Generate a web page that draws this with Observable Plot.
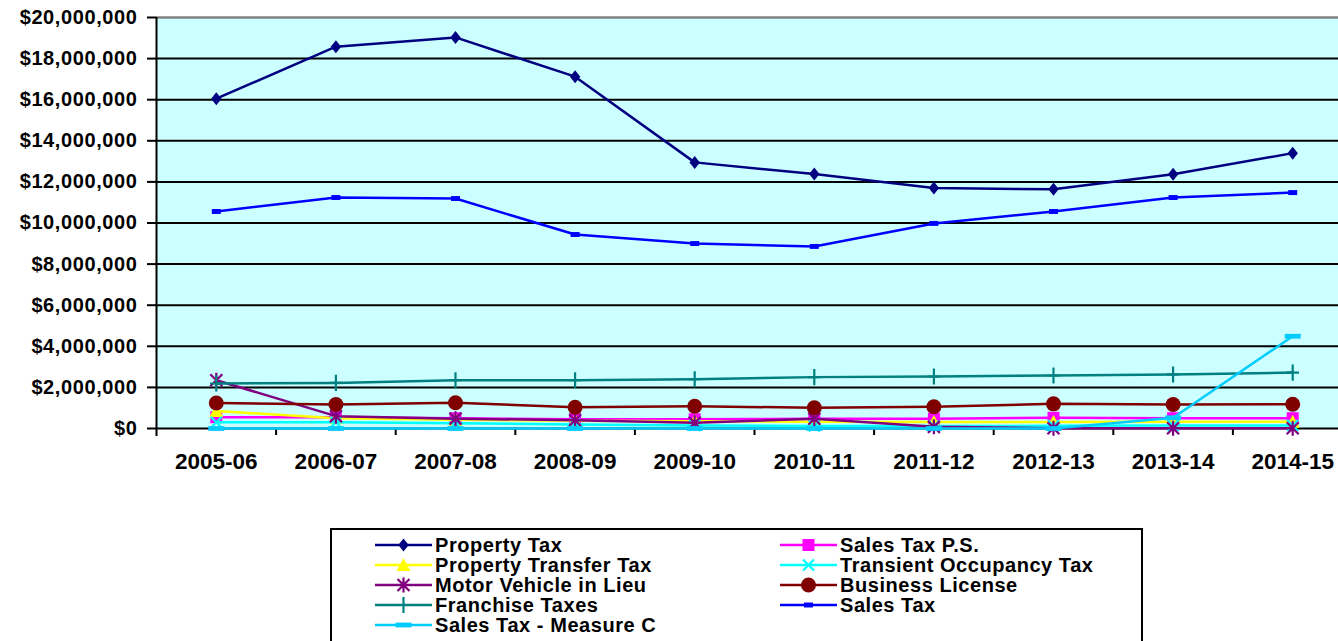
<!DOCTYPE html>
<html>
<head>
<meta charset="utf-8">
<script src="https://cdn.jsdelivr.net/npm/d3@7"></script>
<script src="https://cdn.jsdelivr.net/npm/@observablehq/plot@0.6"></script>
<style>
  html, body { margin: 0; padding: 0; background: #fff; overflow: hidden; }
  body { width: 1338px; height: 641px; position: relative; font-family: "Liberation Sans", Arial, sans-serif; }
  #chart { position: absolute; left: 0; top: 0; width: 1338px; }
  #chart svg text { font-weight: 700; fill: #000; }
  #chart g[aria-label="y-axis tick label"] text { font-size: 20px; letter-spacing: 0.6px; }
  #chart g[aria-label="x-axis tick label"] text { font-size: 22.5px; }
  #legend { position: absolute; left: 330px; top: 528px; width: 813px; height: 140px;
            border: 2px solid #000; box-sizing: border-box; background: #fff; }
  .item { position: absolute; height: 20px; display: flex; align-items: center; white-space: nowrap;
          font-size: 20px; font-weight: 700; letter-spacing: 0.55px; color: #000; line-height: 20px; }
  .item svg { display: block; margin-right: 2px; }
</style>
</head>
<body>
<div id="chart"></div>
<div id="legend"></div>
<script>
// ---------- data ----------
const years = ["2005-06","2006-07","2007-08","2008-09","2009-10","2010-11","2011-12","2012-13","2013-14","2014-15"];
const propertyTax         = [16050000, 18580000, 19030000, 17120000, 12950000, 12380000, 11700000, 11640000, 12370000, 13400000];
const salesTaxPS          = [550000, 550000, 500000, 450000, 450000, 470000, 480000, 520000, 500000, 500000];
const propertyTransferTax = [850000, 500000, 420000, 380000, 350000, 330000, 320000, 320000, 330000, 330000];
const transientOccupancy  = [300000, 300000, 250000, 200000, 150000, 120000, 120000, 130000, 140000, 150000];
const motorVehicleInLieu  = [2350000, 600000, 480000, 400000, 280000, 470000, 80000, 10000, 10000, 10000];
const businessLicense     = [1240000, 1170000, 1250000, 1030000, 1080000, 1010000, 1060000, 1200000, 1170000, 1180000];
const franchiseTaxes      = [2190000, 2220000, 2350000, 2350000, 2400000, 2500000, 2530000, 2580000, 2630000, 2720000];
const salesTax            = [10560000, 11240000, 11190000, 9440000, 9000000, 8860000, 9980000, 10560000, 11240000, 11480000];
const salesTaxMeasureC    = [0, 0, 0, 0, 0, 0, 0, 0, 520000, 4490000];
const yTicks = [0, 2000000, 4000000, 6000000, 8000000, 10000000, 12000000, 14000000, 16000000, 18000000, 20000000];
const seriesNames = ["Property Tax","Sales Tax P.S.","Property Transfer Tax","Transient Occupancy Tax",
  "Motor Vehicle in Lieu","Business License","Franchise Taxes","Sales Tax","Sales Tax - Measure C"];
const seriesValues = [propertyTax, salesTaxPS, propertyTransferTax, transientOccupancy,
  motorVehicleInLieu, businessLicense, franchiseTaxes, salesTax, salesTaxMeasureC];

// ---------- marker shapes ----------
const rad = s => Math.sqrt(s / Math.PI);
const shapes = {
  diamond: {draw(c, s) { const r = rad(s); c.moveTo(0, -r); c.lineTo(r * 0.8, 0); c.lineTo(0, r); c.lineTo(-r * 0.8, 0); c.closePath(); }},
  square: {draw(c, s) { const r = rad(s); c.rect(-r, -r, 2 * r, 2 * r); }},
  triangle: {draw(c, s) { const r = rad(s); c.moveTo(0, -r); c.lineTo(r, r * 0.85); c.lineTo(-r, r * 0.85); c.closePath(); }},
  times: {draw(c, s) { const r = rad(s); c.moveTo(-r, -r); c.lineTo(r, r); c.moveTo(r, -r); c.lineTo(-r, r); }},
  asterisk: {draw(c, s) { const r = rad(s); c.moveTo(-r, -r); c.lineTo(r, r); c.moveTo(r, -r); c.lineTo(-r, r); c.moveTo(0, -r * 1.25); c.lineTo(0, r * 1.25); }},
  circle: {draw(c, s) { const r = rad(s); c.moveTo(r, 0); c.arc(0, 0, r, 0, 2 * Math.PI); }},
  plus: {draw(c, s) { const r = rad(s); c.moveTo(0, -r * 1.15); c.lineTo(0, r * 1.15); c.moveTo(-r * 0.9, 0); c.lineTo(r * 0.9, 0); }},
  dashSmall: {draw(c, s) { const r = rad(s); c.rect(-r, -r * 0.55, 2 * r, r * 1.1); }},
  dashWide: {draw(c, s) { const r = rad(s); c.rect(-r, -r * 0.3, 2 * r, r * 0.6); }}
};
const styles = [
  {color: "#000080", shape: "diamond",  r: 6.5, filled: true},
  {color: "#FF00FF", shape: "square",   r: 6,   filled: true},
  {color: "#FFFF00", shape: "triangle", r: 7,   filled: true},
  {color: "#00FFFF", shape: "times",    r: 5.5, filled: false},
  {color: "#800080", shape: "asterisk", r: 6,   filled: false},
  {color: "#800000", shape: "circle",   r: 7.5, filled: true},
  {color: "#008080", shape: "plus",     r: 7,   filled: false},
  {color: "#0000FF", shape: "dashSmall",r: 4.5, filled: true},
  {color: "#00CCFF", shape: "dashWide", r: 8,   filled: true}
];

// ---------- chart ----------
const xRange = [156, 1352];
const bw = (xRange[1] - xRange[0]) / years.length;
const yMax = yTicks[yTicks.length - 1];

const seriesMarks = seriesNames.flatMap((name, k) => {
  const rows = years.map((year, i) => ({year, value: seriesValues[k][i], name}));
  const st = styles[k];
  return [
    Plot.line(rows, {x: "year", y: "value", stroke: st.color, strokeWidth: 2.5}),
    Plot.dot(rows, {x: "year", y: "value", symbol: shapes[st.shape], r: st.r,
      fill: st.filled ? st.color : "none", stroke: st.filled ? "none" : st.color,
      strokeWidth: st.filled ? 0 : 2.2})
  ];
});

const chart = Plot.plot({
  width: 1338,
  height: 500,
  marginTop: 17,
  marginBottom: 72,
  marginLeft: 156,
  marginRight: 0,
  x: {type: "band", domain: years, range: xRange, padding: 0, round: false, label: null},
  y: {domain: [0, yMax], label: null},
  style: {fontFamily: "'Liberation Sans', Arial, sans-serif", background: "transparent", color: "#000", overflow: "visible"},
  marks: [
    Plot.frame({fill: "#CCFFFF", stroke: null}),
    Plot.ruleY(yTicks.filter(d => d > 0 && d < yMax), {stroke: "#000", strokeWidth: 2}),
    Plot.ruleY([yMax], {stroke: "#808080", strokeWidth: 2.5}),
    Plot.ruleY([0], {stroke: "#000", strokeWidth: 2}),
    Plot.ruleX(years.slice(1), {dx: -bw / 2, y1: 0, y2: 0, insetBottom: -7, stroke: "#000", strokeWidth: 2}),
    Plot.ruleX([years[0]], {dx: -bw / 2, y1: yMax, y2: 0, insetBottom: -8, stroke: "#000", strokeWidth: 2}),
    Plot.axisY(yTicks, {tickFormat: d3.format("$,"), tickSize: 9, tickPadding: 10, fontSize: 20, stroke: "#000", strokeWidth: 2}),
    Plot.axisX({tickSize: 0, tickPadding: 25, fontSize: 22.5}),
    ...seriesMarks
  ]
});
document.getElementById("chart").appendChild(chart);

// ---------- legend ----------
const legend = d3.select("#legend");
seriesNames.forEach((name, i) => {
  const col = i % 2, row = Math.floor(i / 2);
  const st = styles[i];
  const item = legend.append("div").attr("class", "item")
    .style("left", (col ? 448 : 43) + "px")
    .style("top", (4.5 + 20 * row) + "px");
  const svg = item.append("svg").attr("width", 58).attr("height", 20);
  svg.append("line").attr("x1", 0).attr("x2", 57).attr("y1", 10).attr("y2", 10)
    .attr("stroke", st.color).attr("stroke-width", 2.5);
  svg.append("path")
    .attr("transform", "translate(28.5,10)")
    .attr("d", d3.symbol(shapes[st.shape], Math.PI * st.r * st.r)())
    .attr("fill", st.filled ? st.color : "none")
    .attr("stroke", st.filled ? "none" : st.color)
    .attr("stroke-width", st.filled ? 0 : 2.2);
  item.append("span").text(name);
});
</script>
</body>
</html>
